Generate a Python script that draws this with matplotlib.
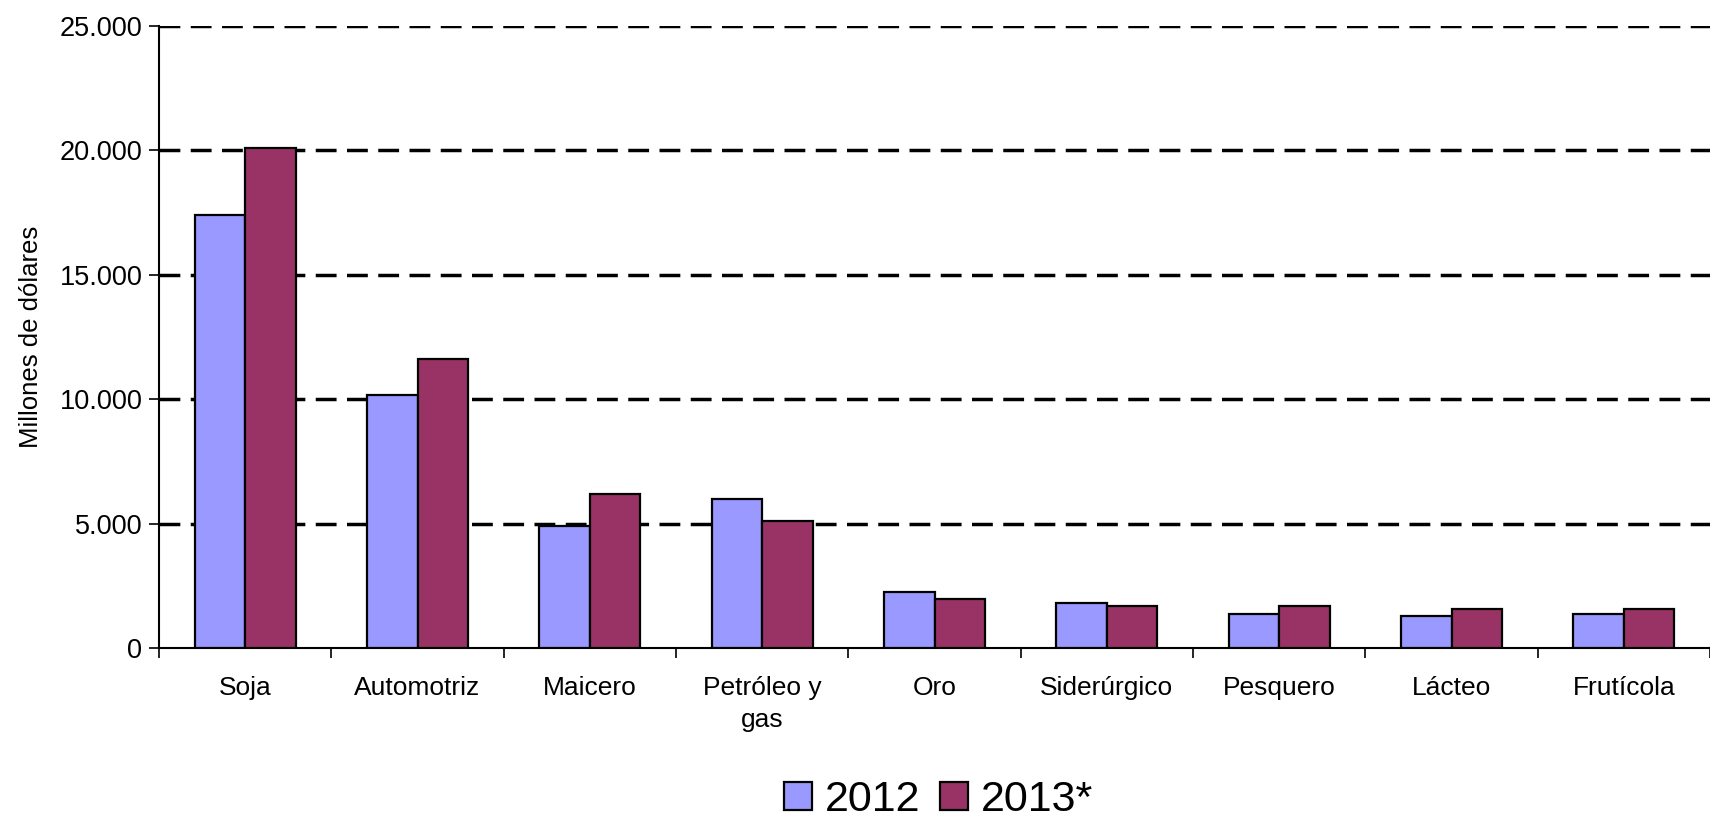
import matplotlib.pyplot as plt
import numpy as np
from matplotlib.ticker import FuncFormatter

plt.rcParams['font.family'] = ['Liberation Sans', 'DejaVu Sans']

sectores = ['Soja', 'Automotriz', 'Maicero', 'Petróleo y\ngas', 'Oro',
            'Siderúrgico', 'Pesquero', 'Lácteo', 'Frutícola']
valores_2012 = [17400, 10150, 4900, 6000, 2250, 1790, 1370, 1290, 1370]
valores_2013 = [20100, 11600, 6200, 5100, 1970, 1690, 1670, 1570, 1570]
y_ticks = [0, 5000, 10000, 15000, 20000, 25000]

fig = plt.figure(figsize=(17.1, 8.25), dpi=100)
ax = fig.add_axes([0.093, 0.2145, 0.907, 0.754])

x = np.arange(len(sectores))
w = 0.293
ax.bar(x - w / 2, valores_2012, w, color='#9999FF', edgecolor='black',
       linewidth=1.6, label='2012', zorder=3)
ax.bar(x + w / 2, valores_2013, w, color='#993366', edgecolor='black',
       linewidth=1.6, label='2013*', zorder=3)

ax.set_xlim(-0.5, len(sectores) - 0.5)
ax.set_ylim(0, 25000)

for v in y_ticks[1:]:
    ax.axhline(v, color='black', linestyle=(0, (6, 3)), linewidth=2.5, zorder=1)

ax.set_yticks(y_ticks)
ax.yaxis.set_major_formatter(FuncFormatter(lambda v, p: f'{int(v):,}'.replace(',', '.')))
ax.tick_params(axis='y', labelsize=19.5, length=7, width=1.2, direction='out', pad=5)

# group boundaries get the tick marks, centres get the labels
ax.set_xticks(np.arange(-0.5, len(sectores), 1.0))
ax.set_xticklabels([])
ax.set_xticks(x, minor=True)
ax.set_xticklabels(sectores, minor=True, fontsize=19, linespacing=1.45)
ax.tick_params(axis='x', which='major', length=7, width=1.2, direction='out')
ax.tick_params(axis='x', which='minor', length=0, pad=20)

ax.spines['top'].set_visible(False)
ax.spines['right'].set_visible(False)
ax.spines['left'].set_linewidth(1.5)
ax.spines['bottom'].set_linewidth(1.5)

ax.set_ylabel('Millones de dólares', fontsize=18.5, labelpad=12)

fig.legend(loc='center', bbox_to_anchor=(0.549, 0.03), ncol=2, frameon=False,
           fontsize=31, handlelength=0.65, handleheight=0.65, handletextpad=0.3,
           columnspacing=0.45, borderaxespad=0, borderpad=0)

fig.savefig('out.png', dpi=100)
